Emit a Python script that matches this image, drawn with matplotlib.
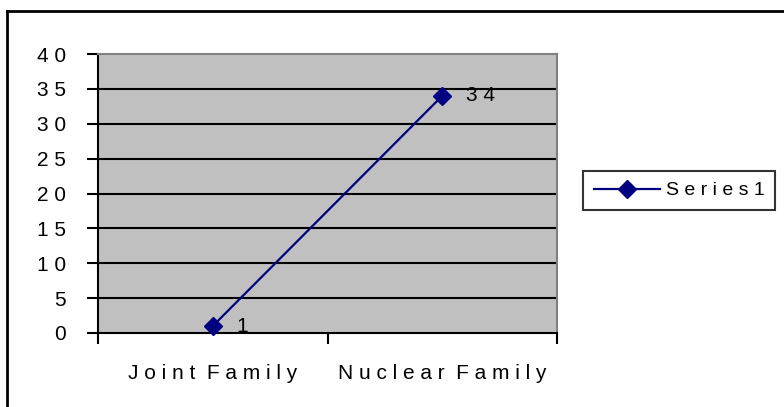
import numpy as np
import matplotlib.pyplot as plt
from matplotlib.lines import Line2D

categories = ['Joint Family', 'Nuclear Family']
values = [1, 34]
series_name = 'Series1'
yticks = [0, 5, 10, 15, 20, 25, 30, 35, 40]


def spaced(s):
    # old spreadsheet look: letters spread apart
    return '  '.join(' '.join(w) for w in s.split(' '))


plt.rcParams['font.family'] = ['Liberation Sans', 'DejaVu Sans']
fs = 15

fig = plt.figure(figsize=(7.84, 4.07), dpi=100)
ax = fig.add_axes([98 / 784, 1 - 333 / 407, (557 - 98) / 784, (333 - 54) / 407])
ax.set_facecolor('#c0c0c0')

x = np.arange(len(categories))
ax.plot(x, values, color='#000080', lw=1.6, marker='D', markersize=9,
        markerfacecolor='#000080', markeredgecolor='#000080',
        label=spaced(series_name), zorder=5, clip_on=False)
for xi, v in zip(x, values):
    ax.annotate(' '.join(str(v)), (xi, v), xytext=(17, 0),
                textcoords='offset points', va='center', ha='left', fontsize=fs)

ax.set_xlim(-0.5, 1.5)
ax.set_ylim(0, 40)
ax.set_yticks(yticks)
ax.set_yticklabels([' '.join(str(t)) for t in yticks], fontsize=fs)
ax.set_xticks([-0.5, 0.5, 1.5])
ax.set_xticklabels([])
ax.set_xticks(x, minor=True)
ax.set_xticklabels([spaced(c) for c in categories], minor=True, fontsize=fs)
ax.tick_params(axis='x', which='minor', length=0, pad=22)
ax.tick_params(axis='x', which='major', direction='out', length=8, width=1.5)
ax.tick_params(axis='y', direction='out', length=8, width=1.5, pad=15)

for t in yticks[1:-1]:
    ax.axhline(t, color='black', lw=1.5, zorder=1)

ax.spines['left'].set_linewidth(1.5)
ax.spines['bottom'].set_linewidth(1.5)
ax.spines['top'].set_color('#808080')
ax.spines['right'].set_color('#808080')
ax.spines['top'].set_linewidth(1.5)
ax.spines['right'].set_linewidth(1.5)

leg = fig.legend(loc='upper left', bbox_to_anchor=(583 / 784, 1 - 171 / 407),
                 fontsize=fs - 1, frameon=True, fancybox=False, edgecolor='black',
                 borderpad=0.55, handlelength=3.4, handletextpad=0.3,
                 borderaxespad=0)
leg.get_frame().set_linewidth(1.5)

# outer chart frame
fig.add_artist(Line2D([7 / 784, 7 / 784], [0, 1 - 11 / 407], color='black', lw=2))
fig.add_artist(Line2D([7 / 784, 1], [1 - 11 / 407, 1 - 11 / 407], color='black', lw=2))

plt.savefig('out.png', dpi=100)
